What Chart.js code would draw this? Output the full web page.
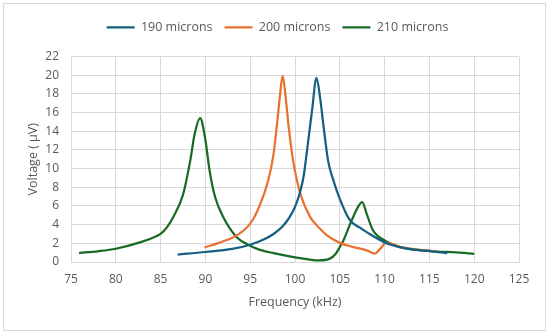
<!DOCTYPE html>
<html>
<head>
<meta charset="utf-8">
<script src="https://cdn.jsdelivr.net/npm/chart.js@4/dist/chart.umd.min.js"></script>
<style>
  html, body { margin: 0; padding: 0; background: #fff; }
  #wrap { position: relative; width: 550px; height: 336px; }
  #frame { position: absolute; left: 3px; top: 3px; width: 541px; height: 326px; border: 1px solid #d9d9d9; pointer-events: none; }
</style>
</head>
<body>
<div id="wrap">
  <canvas id="chart" width="550" height="336"></canvas>
  <div id="frame"></div>
</div>
<script>
// --- data ---
const seriesNames = ['190 microns', '200 microns', '210 microns'];
const seriesColors = ['#156082', '#E97132', '#196B24'];

const blueX = [86.9, 90, 93, 95, 96.5, 97.6, 98.6, 99.4, 100, 100.6, 101, 101.3, 101.9, 102.4, 102.8, 103.2, 103.7, 104.3, 105, 106.1, 107.2, 108, 110, 111.7, 113.5, 115.1, 117];
const blueY = [0.8, 1.07, 1.4, 1.85, 2.4, 3.0, 3.8, 4.8, 5.9, 7.6, 9.4, 11.6, 16.2, 19.7, 17.6, 14.4, 10.8, 8.7, 6.75, 4.5, 3.7, 3.2, 2.1, 1.6, 1.3, 1.17, 0.95];

const orangeX = [89.9, 91.5, 93.5, 95, 96, 97, 97.6, 98.03, 98.3, 98.62, 98.96, 99.3, 99.8, 100.6, 101.7, 102.8, 103.5, 105, 106.5, 108, 108.9, 109.5, 110.2, 111.8, 113.5, 115.1, 116];
const orangeY = [1.55, 2.05, 2.85, 4.1, 5.9, 8.7, 11.5, 15.1, 17.6, 19.95, 17.6, 14.4, 10.8, 7.3, 4.8, 3.55, 2.9, 2.05, 1.6, 1.25, 0.9, 1.4, 2.07, 1.6, 1.35, 1.2, 1.12];

const greenX = [75.9, 78, 80, 82.7, 84, 85, 85.7, 86.4, 87.5, 88.3, 88.8, 89.42, 89.96, 90.5, 91.1, 92, 93.5, 95, 96.1, 97.6, 100, 101.7, 102.6, 103.9, 104.5, 105, 105.4, 106.3, 107.1, 107.5, 108, 108.7, 110, 111.7, 115.1, 118, 120];
const greenY = [0.96, 1.15, 1.42, 2.1, 2.55, 3.0, 3.7, 4.8, 7.2, 10.8, 13.7, 15.4, 13.3, 9.6, 6.9, 4.8, 2.66, 1.75, 1.3, 0.95, 0.5, 0.25, 0.17, 0.36, 0.82, 1.6, 2.3, 4.4, 6.0, 6.4, 5.15, 3.4, 2.3, 1.6, 1.17, 1.02, 0.88];

const xTicks = [75, 80, 85, 90, 95, 100, 105, 110, 115, 120, 125];
const yTicks = [0, 2, 4, 6, 8, 10, 12, 14, 16, 18, 20, 22];

const xTitle = 'Frequency (kHz)';
const yTitle = 'Voltage ( μV)';

const toPoints = (xs, ys) => xs.map((x, i) => ({ x, y: ys[i] }));
const seriesData = [toPoints(blueX, blueY), toPoints(orangeX, orangeY), toPoints(greenX, greenY)];

const textColor = '#595959';
const gridColor = '#d9d9d9';
Chart.defaults.font.family = '"Open Sans", sans-serif';
Chart.defaults.font.size = 12;
Chart.defaults.color = textColor;

// extra room under the legend, and nudge it right to sit where the original does
const legendTweak = {
    id: 'legendTweak',
    beforeInit(chart) {
        const fit = chart.legend.fit;
        chart.legend.fit = function () {
            fit.bind(chart.legend)();
            this.height += 13;
        };
    },
    afterLayout(chart) {
        chart.legend.left += 7;
        chart.legend.right += 7;
    }
};

new Chart(document.getElementById('chart'), {
    type: 'line',
    data: {
        datasets: seriesData.map((pts, i) => ({
            label: seriesNames[i],
            data: pts,
            borderColor: seriesColors[i],
            backgroundColor: seriesColors[i],
            borderWidth: 2.25,
            pointRadius: 0,
            fill: false,
            cubicInterpolationMode: 'monotone'
        }))
    },
    options: {
        responsive: false,
        animation: false,
        layout: { padding: { left: 22, right: 31, top: 9, bottom: 22 } },
        plugins: {
            legend: {
                position: 'top',
                labels: {
                    usePointStyle: true,
                    pointStyle: 'line',
                    pointStyleWidth: 28,
                    padding: 12,
                    color: textColor,
                    font: { size: 12.5 }
                }
            },
            tooltip: { enabled: false }
        },
        scales: {
            x: {
                type: 'linear',
                min: 75,
                max: 125,
                afterBuildTicks: (axis) => { axis.ticks = xTicks.map(v => ({ value: v })); },
                afterFit: (axis) => { axis.height = 52; },
                ticks: { padding: 10, color: textColor },
                grid: { color: gridColor, drawTicks: false },
                border: { color: gridColor },
                title: { display: true, text: xTitle, color: textColor, font: { size: 12.5 } }
            },
            y: {
                min: 0,
                max: 22,
                afterBuildTicks: (axis) => { axis.ticks = yTicks.map(v => ({ value: v })); },
                afterFit: (axis) => { axis.width = 49; },
                ticks: { padding: 12, color: textColor },
                grid: { color: gridColor, drawTicks: false },
                border: { color: gridColor },
                title: { display: true, text: yTitle, color: textColor, font: { size: 12.5 } }
            }
        }
    },
    plugins: [legendTweak]
});
</script>
</body>
</html>
